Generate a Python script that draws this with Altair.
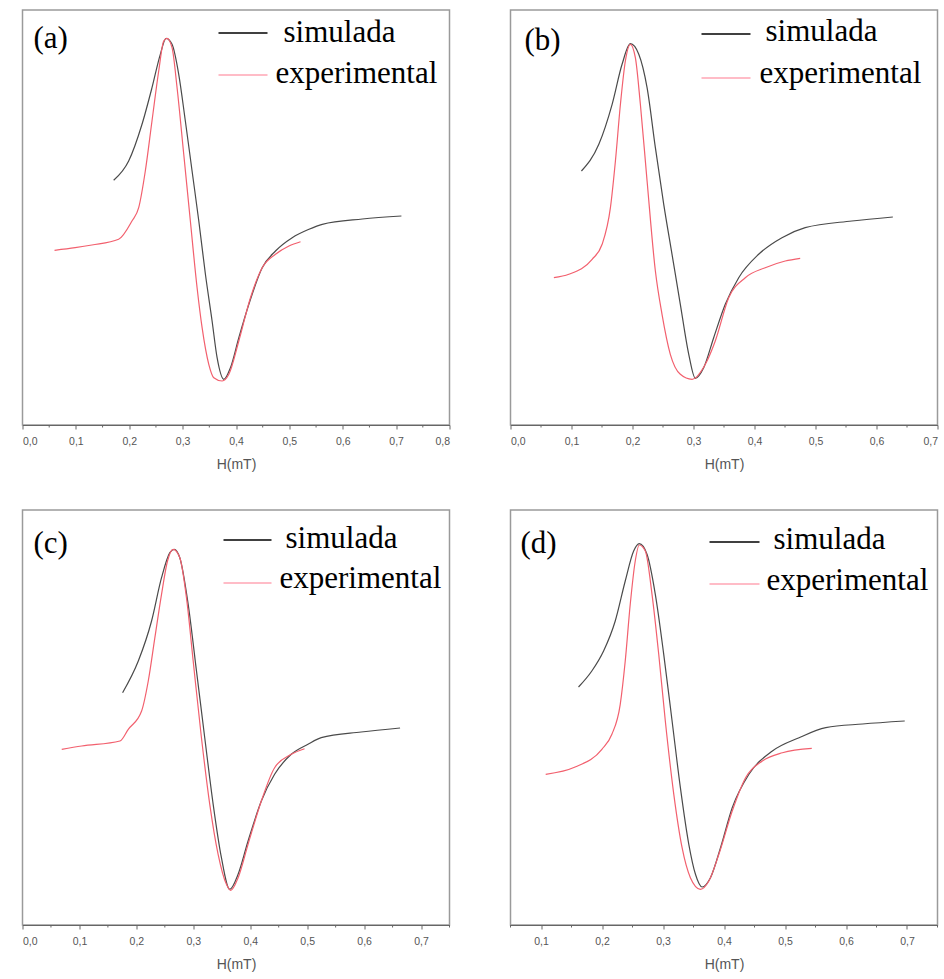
import altair as alt
import pandas as pd

# ---- EPR derivative spectra: simulated vs experimental (arbitrary signal units) ----
# Panel (a)
a_sim_h = [0.1708, 0.1989, 0.2239, 0.2426, 0.2582, 0.2689, 0.2802, 0.2927, 0.3051, 0.3177,
           0.3303, 0.3427, 0.3552, 0.3646, 0.3772, 0.3896, 0.4053, 0.4241, 0.4491, 0.4740,
           0.5053, 0.5367, 0.5616, 0.6367, 0.7099]
a_sim_s = [244.7, 264.0, 300.7, 337.3, 370.7, 386.7, 380.7, 350.7, 304.0, 254.0,
           204.0, 150.7, 104.0, 67.3, 45.7, 57.3, 87.3, 120.7, 157.3, 174.0,
           187.3, 195.7, 200.7, 206.0, 209.0]
a_exp_h = [0.0600, 0.0987, 0.1300, 0.1801, 0.2051, 0.2177, 0.2301, 0.2426, 0.2552, 0.2646,
           0.2708, 0.2802, 0.2896, 0.3021, 0.3145, 0.3271, 0.3365, 0.3490, 0.3584, 0.3740,
           0.3866, 0.4053, 0.4271, 0.4491, 0.4740, 0.4992, 0.5209]
a_exp_s = [174.7, 177.3, 180.0, 185.7, 204.0, 217.3, 254.0, 304.0, 354.0, 384.0,
           386.7, 377.3, 337.3, 270.7, 204.0, 137.3, 97.3, 60.7, 47.3, 44.0,
           50.7, 84.0, 127.3, 157.3, 170.7, 179.0, 183.3]

# Panel (b)
b_sim_h = [0.1163, 0.1448, 0.1666, 0.1829, 0.1965, 0.2103, 0.2239, 0.2375, 0.2512, 0.2648,
           0.2784, 0.2922, 0.3030, 0.3167, 0.3331, 0.3521, 0.3741, 0.4068, 0.4450, 0.4831,
           0.5596, 0.6268]
b_sim_s = [254.0, 280.7, 320.7, 360.7, 381.3, 370.7, 337.3, 277.3, 220.7, 170.7,
           120.7, 70.7, 46.7, 57.3, 87.3, 120.7, 147.3, 170.7, 187.3, 197.3,
           204.0, 208.0]
b_exp_h = [0.0711, 0.0956, 0.1338, 0.1502, 0.1638, 0.1720, 0.1802, 0.1883, 0.1965, 0.2047,
           0.2129, 0.2239, 0.2375, 0.2484, 0.2620, 0.2784, 0.2976, 0.3194, 0.3357, 0.3577,
           0.3849, 0.4176, 0.4504, 0.4749]
b_exp_s = [147.3, 150.7, 165.7, 180.7, 217.3, 264.0, 320.7, 364.0, 380.7, 367.3,
           320.7, 244.0, 154.0, 110.7, 70.7, 50.7, 45.7, 60.7, 84.0, 127.3,
           147.3, 157.3, 164.0, 166.7]

# Panel (c)
c_sim_h = [0.1758, 0.2034, 0.2267, 0.2442, 0.2588, 0.2665, 0.2763, 0.2910, 0.3056, 0.3201,
           0.3349, 0.3494, 0.3640, 0.3787, 0.3962, 0.4195, 0.4428, 0.4721, 0.5014, 0.5247,
           0.5948, 0.6632]
c_sim_s = [232.3, 264.0, 304.0, 347.3, 372.3, 375.7, 367.3, 320.7, 254.0, 187.3,
           120.7, 67.3, 35.7, 50.7, 84.0, 124.0, 150.7, 170.7, 180.7, 187.3,
           193.0, 197.0]
c_exp_h = [0.0689, 0.1040, 0.1711, 0.1858, 0.2092, 0.2209, 0.2325, 0.2442, 0.2547, 0.2647,
           0.2763, 0.2880, 0.2998, 0.3143, 0.3289, 0.3436, 0.3582, 0.3657, 0.3787, 0.3962,
           0.4195, 0.4428, 0.4721, 0.4954]
c_exp_s = [175.7, 179.0, 184.0, 195.7, 214.0, 244.0, 287.3, 330.7, 364.0, 375.7,
           367.3, 327.3, 264.0, 187.3, 120.7, 70.7, 40.7, 34.7, 47.3, 80.7,
           124.0, 157.3, 170.7, 176.3]

# Panel (d)
d_sim_h = [0.1615, 0.1833, 0.2026, 0.2217, 0.2381, 0.2519, 0.2611, 0.2738, 0.2874, 0.3012,
           0.3149, 0.3285, 0.3423, 0.3532, 0.3642, 0.3778, 0.3943, 0.4135, 0.4409, 0.4793,
           0.5231, 0.5669, 0.6272, 0.6963]
d_sim_s = [238.0, 254.0, 274.0, 304.0, 344.0, 374.0, 381.3, 370.7, 330.7, 270.7,
           204.0, 137.3, 80.7, 50.7, 38.0, 47.3, 77.3, 117.3, 150.7, 174.0,
           187.3, 197.3, 201.0, 204.0]
d_exp_h = [0.1077, 0.1559, 0.1998, 0.2162, 0.2299, 0.2381, 0.2463, 0.2545, 0.2611, 0.2710,
           0.2820, 0.2930, 0.3038, 0.3177, 0.3313, 0.3449, 0.3614, 0.3752, 0.3916, 0.4135,
           0.4354, 0.4628, 0.4957, 0.5439]
d_exp_s = [150.7, 158.0, 175.7, 190.7, 220.7, 264.0, 320.7, 364.0, 380.0, 374.0,
           330.7, 270.7, 204.0, 130.7, 77.3, 47.3, 35.7, 44.0, 70.7, 114.0,
           147.3, 164.0, 172.3, 176.7]

# Axis ticks (mT)
ticks_08 = [0.0, 0.1, 0.2, 0.3, 0.4, 0.5, 0.6, 0.7, 0.8]
ticks_07 = [0.0, 0.1, 0.2, 0.3, 0.4, 0.5, 0.6, 0.7]
ticks_d = [0.1, 0.2, 0.3, 0.4, 0.5, 0.6, 0.7]
minor_a = [0.05, 0.15, 0.25, 0.35, 0.45, 0.55, 0.65, 0.75]
minor_b = [0.05, 0.15, 0.25, 0.35, 0.45, 0.55, 0.65]
minor_cd = [0.05, 0.15, 0.25, 0.35, 0.45, 0.55, 0.65, 0.75]

series_names = ["simulada", "experimental"]
panel_tags = ["(a)", "(b)", "(c)", "(d)"]

W, H = 427, 415
SIM_COLOR = "#4a4a4a"
EXP_COLOR = "#f2606e"
SERIF = "Liberation Serif"
SANS = "Liberation Sans"
TXT = 31


def panel(tag, sim_h, sim_s, exp_h, exp_s, xdom, major, minor, leg):
    sim = pd.DataFrame({"h": sim_h, "s": sim_s, "serie": series_names[0]})
    exp = pd.DataFrame({"h": exp_h, "s": exp_s, "serie": series_names[1]})
    xs = alt.Scale(domain=xdom, nice=False, zero=False)
    ys = alt.Scale(domain=[0, H], nice=False, zero=False)

    x_axis = alt.Axis(
        values=major, tickSize=4, tickColor="#666", domainColor="#666",
        labelExpr="replace(format(datum.value, '.1f'), '.', ',')",
        labelFont=SANS, labelFontSize=10.5, labelColor="#555", labelPadding=7,
        title="H(mT)", titleFont=SANS, titleFontSize=14, titleFontWeight="normal",
        titleColor="#555", titlePadding=11, grid=False,
    )

    sim_line = alt.Chart(sim).mark_line(
        color=SIM_COLOR, strokeWidth=1.2, interpolate="monotone"
    ).encode(
        x=alt.X("h:Q", scale=xs, axis=x_axis),
        y=alt.Y("s:Q", scale=ys, axis=None),
    )
    exp_line = alt.Chart(exp).mark_line(
        color=EXP_COLOR, strokeWidth=1.2, interpolate="monotone"
    ).encode(
        x=alt.X("h:Q", scale=xs),
        y=alt.Y("s:Q", scale=ys),
    )

    minor_ticks = alt.Chart(pd.DataFrame({"h": minor})).mark_rule(
        color="#666", strokeWidth=1
    ).encode(
        x=alt.X("h:Q", scale=xs),
        y=alt.value(H),
        y2=alt.value(H + 2.5),
    )

    # legend samples and labels
    (lx0, lx1, ly_sim, ly_exp, tx_sim, tb_sim, tx_exp, tb_exp, tagx, tagy) = leg
    key_sim = alt.Chart(pd.DataFrame({"serie": [series_names[0]]})).mark_rule(
        color="#000", strokeWidth=1.5
    ).encode(x=alt.value(lx0), x2=alt.value(lx1), y=alt.value(ly_sim))
    key_exp = alt.Chart(pd.DataFrame({"serie": [series_names[1]]})).mark_rule(
        color="#ffa6b4", strokeWidth=1.5
    ).encode(x=alt.value(lx0), x2=alt.value(lx1), y=alt.value(ly_exp))
    txt_sim = alt.Chart(pd.DataFrame({"serie": [series_names[0]]})).mark_text(
        font=SERIF, fontSize=TXT, align="left", baseline="alphabetic", color="#000"
    ).encode(text="serie:N", x=alt.value(tx_sim), y=alt.value(tb_sim))
    txt_exp = alt.Chart(pd.DataFrame({"serie": [series_names[1]]})).mark_text(
        font=SERIF, fontSize=TXT, align="left", baseline="alphabetic", color="#000"
    ).encode(text="serie:N", x=alt.value(tx_exp), y=alt.value(tb_exp))
    txt_tag = alt.Chart(pd.DataFrame({"tag": [tag]})).mark_text(
        font=SERIF, fontSize=TXT, align="left", baseline="alphabetic", color="#000"
    ).encode(text="tag:N", x=alt.value(tagx), y=alt.value(tagy))

    return alt.layer(
        sim_line, exp_line, minor_ticks, key_sim, key_exp, txt_sim, txt_exp, txt_tag
    ).properties(width=W, height=H)


pa = panel(panel_tags[0], a_sim_h, a_sim_s, a_exp_h, a_exp_s, [0.0, 0.8], ticks_08, minor_a,
           (196, 245, 23, 65, 261, 32, 253, 72.7, 11, 38))
pb = panel(panel_tags[1], b_sim_h, b_sim_s, b_exp_h, b_exp_s, [0.0, 0.7], ticks_07, minor_b,
           (191, 240, 24, 68, 255, 31, 249, 72.7, 14, 40))
pc = panel(panel_tags[2], c_sim_h, c_sim_s, c_exp_h, c_exp_s, [0.0, 0.75], ticks_07, minor_cd,
           (201, 249, 30, 73, 263, 37.7, 257, 78.3, 11, 42.7))
pd_ = panel(panel_tags[3], d_sim_h, d_sim_s, d_exp_h, d_exp_s, [0.05, 0.75], ticks_d, minor_cd,
            (199, 249, 32, 74, 263, 39.3, 256, 80.3, 10, 42.7))

chart = alt.concat(
    pa, pb, pc, pd_, columns=2,
    spacing=alt.RowColnumber(row=85, column=61), bounds="flush",
).properties(
    padding={"left": 20.5, "top": 9, "right": 4, "bottom": 4},
    background="white",
).configure_view(
    stroke="#9a9a9a", strokeWidth=1.5
)

chart.save("out.html", embed_options={"renderer": "svg", "actions": False})
